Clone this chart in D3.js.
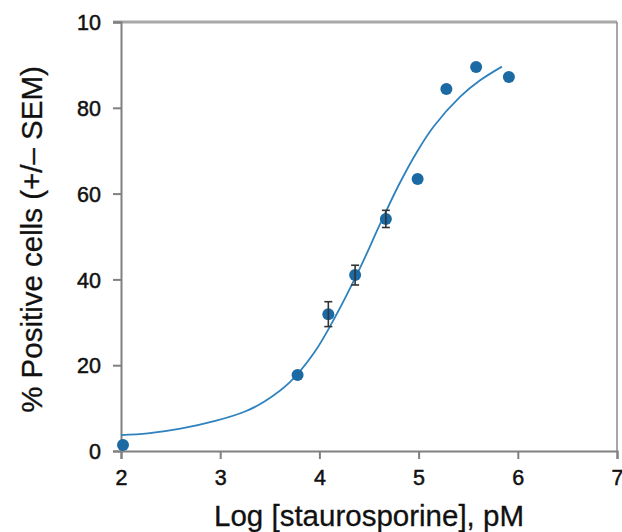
<!DOCTYPE html>
<html>
<head>
<meta charset="utf-8">
<script src="https://cdn.jsdelivr.net/npm/d3@7"></script>
<style>
  html, body { margin: 0; padding: 0; background: #fff; }
  svg { display: block; }
  text { font-family: "Liberation Sans", Arial, Helvetica, sans-serif; fill: #111; }
</style>
</head>
<body>
<svg id="chart" width="622" height="532"></svg>
<script>
// Data
const logConc = [2.02, 3.78, 4.09, 4.36, 4.67, 4.99, 5.28, 5.58, 5.91];
const pctPositive = [1.4, 17.7, 31.9, 41.0, 54.1, 63.4, 84.4, 89.5, 87.2];
const semValues = [0, 0, 2.9, 2.3, 2.0, 0, 0, 0, 0];
const fitX = [2.00, 2.27, 2.60, 2.95, 3.25, 3.45, 3.70, 3.95, 4.16, 4.41, 4.61, 4.80, 4.98, 5.15, 5.42, 5.62, 5.84];
const fitY = [3.7, 4.1, 5.2, 7.0, 9.2, 11.6, 16.0, 23.0, 31.3, 42.7, 52.8, 62.0, 69.6, 75.6, 82.6, 86.4, 89.6];
const xTickValues = [2, 3, 4, 5, 6, 7];
const xTickLabels = ["2", "3", "4", "5", "6", "7"];
const yTickValues = [0, 20, 40, 60, 80, 100];
const yTickLabels = ["0", "20", "40", "60", "80", "10"];
const xTitle = "Log [staurosporine], pM";
const yTitle = "% Positive cells (+/\u2013 SEM)";

const svg = d3.select("#chart");
const m = { left: 121, top: 22, right: 5, bottom: 81 };
const W = 622 - m.left - m.right, H = 532 - m.top - m.bottom;

const x = d3.scaleLinear().domain([2, 7]).range([m.left, m.left + W]);
const y = d3.scaleLinear().domain([0, 100]).range([m.top + H, m.top]);

// frame top and right
svg.append("line").attr("x1", x(2) - 8).attr("x2", x(7)).attr("y1", y(100)).attr("y2", y(100))
  .attr("stroke", "#a8a8a8").attr("stroke-width", 3);
svg.append("line").attr("x1", x(7)).attr("x2", x(7)).attr("y1", y(100)).attr("y2", y(0))
  .attr("stroke", "#8a8a8a").attr("stroke-width", 1.5);

// axes
const xAxis = d3.axisBottom(x).tickValues(xTickValues).tickSize(8).tickPadding(6)
  .tickFormat((d, i) => xTickLabels[i]);
const yAxis = d3.axisLeft(y).tickValues(yTickValues).tickSize(8).tickPadding(12)
  .tickFormat((d, i) => yTickLabels[i]);

const gx = svg.append("g").attr("transform", `translate(0,${y(0)})`).call(xAxis);
const gy = svg.append("g").attr("transform", `translate(${x(2)},0)`).call(yAxis);
[gx, gy].forEach(g => {
  g.select(".domain").attr("stroke", "#808080").attr("stroke-width", 2);
  g.selectAll(".tick line").attr("stroke", "#808080").attr("stroke-width", 2);
  g.selectAll(".tick text").attr("font-size", 21.5).attr("fill", "#111")
    .attr("stroke", "#111").attr("stroke-width", 0.5)
    .attr("font-family", "'Liberation Sans', Arial, sans-serif");
});
gx.selectAll(".tick text").attr("dy", "0.92em");
gy.selectAll(".tick text").attr("dy", "0.36em");

// titles
svg.append("text").attr("x", (x(2) + x(7)) / 2).attr("y", 526)
  .attr("text-anchor", "middle").attr("font-size", 29.5)
  .attr("stroke", "#111").attr("stroke-width", 0.3).text(xTitle);
svg.append("text").attr("transform", `translate(42,${(y(0) + y(100)) / 2 + 3}) rotate(-90)`)
  .attr("text-anchor", "middle").attr("font-size", 29.5)
  .attr("stroke", "#111").attr("stroke-width", 0.3).text(yTitle);

// fitted curve
const line = d3.line().x(d => x(d[0])).y(d => y(d[1])).curve(d3.curveCatmullRom.alpha(0.5));
svg.append("path").datum(fitX.map((v, i) => [v, fitY[i]]))
  .attr("d", line).attr("fill", "none").attr("stroke", "#2f82bd").attr("stroke-width", 1.8);

// points
const pts = logConc.map((v, i) => ({ x: v, y: pctPositive[i], e: semValues[i] }));
svg.append("g").selectAll("circle").data(pts).join("circle")
  .attr("cx", d => x(d.x)).attr("cy", d => y(d.y)).attr("r", 6)
  .attr("fill", "#1c6aa3");

// error bars
const eb = svg.append("g").attr("stroke", "#333").attr("stroke-width", 1.6);
pts.filter(d => d.e > 0).forEach(d => {
  eb.append("line").attr("x1", x(d.x)).attr("x2", x(d.x)).attr("y1", y(d.y - d.e)).attr("y2", y(d.y + d.e));
  eb.append("line").attr("x1", x(d.x) - 4).attr("x2", x(d.x) + 4).attr("y1", y(d.y - d.e)).attr("y2", y(d.y - d.e));
  eb.append("line").attr("x1", x(d.x) - 4).attr("x2", x(d.x) + 4).attr("y1", y(d.y + d.e)).attr("y2", y(d.y + d.e));
});
</script>
</body>
</html>
